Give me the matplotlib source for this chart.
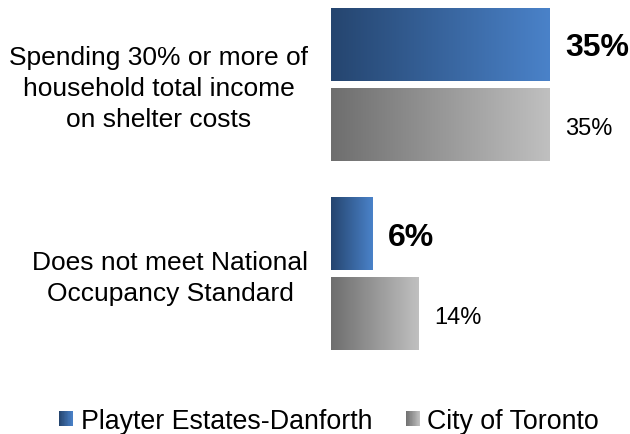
import matplotlib
matplotlib.use("Agg")
import matplotlib.pyplot as plt
import numpy as np
from matplotlib.colors import LinearSegmentedColormap
from matplotlib.legend_handler import HandlerBase
from matplotlib.patches import Rectangle

plt.rcParams["font.family"] = ["Liberation Sans", "DejaVu Sans"]

categories = ["Spending 30% or more of\nhousehold total income\non shelter costs",
              "Does not meet National\nOccupancy Standard"]
series_names = ["Playter Estates-Danforth", "City of Toronto"]
playter = [35.0, 6.6]
toronto = [35.0, 14.0]
playter_labels = ["35%", "6%"]
toronto_labels = ["35%", "14%"]

blue_cmap = LinearSegmentedColormap.from_list("blue", ["#25456f", "#4a82c9"])
gray_cmap = LinearSegmentedColormap.from_list("gray", ["#6e6e6e", "#c0c0c0"])


class GradientHandler(HandlerBase):
    def __init__(self, cmap):
        super().__init__()
        self.cmap = cmap

    def create_artists(self, legend, orig_handle, xdescent, ydescent,
                       width, height, fontsize, trans):
        n = 24
        out = []
        for i in range(n):
            out.append(Rectangle((-xdescent + i * width / n, -ydescent),
                                 width / n * 1.05, height,
                                 facecolor=self.cmap(i / (n - 1)),
                                 edgecolor="none", transform=trans))
        return out


fig = plt.figure(figsize=(6.3, 4.35), dpi=100)
ax = fig.add_axes([331 / 630, 1 - 360 / 435, 299 / 630, 360 / 435])

y = np.arange(len(categories))
h = 0.385
off = 0.211


def grad_bars(ypos, vals, cmap):
    bars = ax.barh(ypos, vals, height=h, color="none", edgecolor="none")
    grad = np.linspace(0, 1, 256).reshape(1, -1)
    for b in bars:
        x0, y0 = b.get_x(), b.get_y()
        ax.imshow(grad, cmap=cmap, aspect="auto", interpolation="bilinear",
                  extent=[x0, x0 + b.get_width(), y0 + b.get_height(), y0],
                  zorder=2)
    return bars


b1 = grad_bars(y - off, playter, blue_cmap)
b2 = grad_bars(y + off, toronto, gray_cmap)

for b, lab in zip(b1, playter_labels):
    ax.annotate(lab, (b.get_width(), b.get_y() + b.get_height() / 2),
                xytext=(11.5, -2), textcoords="offset points",
                ha="left", va="center", fontsize=23, fontweight="bold")
for b, lab in zip(b2, toronto_labels):
    ax.annotate(lab, (b.get_width(), b.get_y() + b.get_height() / 2),
                xytext=(11.5, -2.5), textcoords="offset points",
                ha="left", va="center", fontsize=17)

# category labels, right-aligned blocks with centred lines
for yi, cat in zip(y, categories):
    ax.annotate(cat, (0, yi), xytext=(-16.5, -2.5), textcoords="offset points",
                ha="right", va="center", multialignment="center",
                fontsize=19, linespacing=1.38, annotation_clip=False)

ax.set_xlim(0, 48)
ax.set_ylim(1.45, -0.45)
ax.set_yticks([])
ax.set_xticks([])
for s in ax.spines.values():
    s.set_visible(False)

p1 = Rectangle((0, 0), 1, 1)
p2 = Rectangle((0, 0), 1, 1)
fig.legend([p1, p2], series_names, loc="center",
           bbox_to_anchor=(329 / 630, 1 - 422 / 435), ncol=2,
           frameon=False, fontsize=19.3, borderpad=0,
           handlelength=0.53, handleheight=0.53, handletextpad=0.28,
           columnspacing=1.25,
           handler_map={p1: GradientHandler(blue_cmap),
                        p2: GradientHandler(gray_cmap)})

fig.savefig("out.png", dpi=100)
